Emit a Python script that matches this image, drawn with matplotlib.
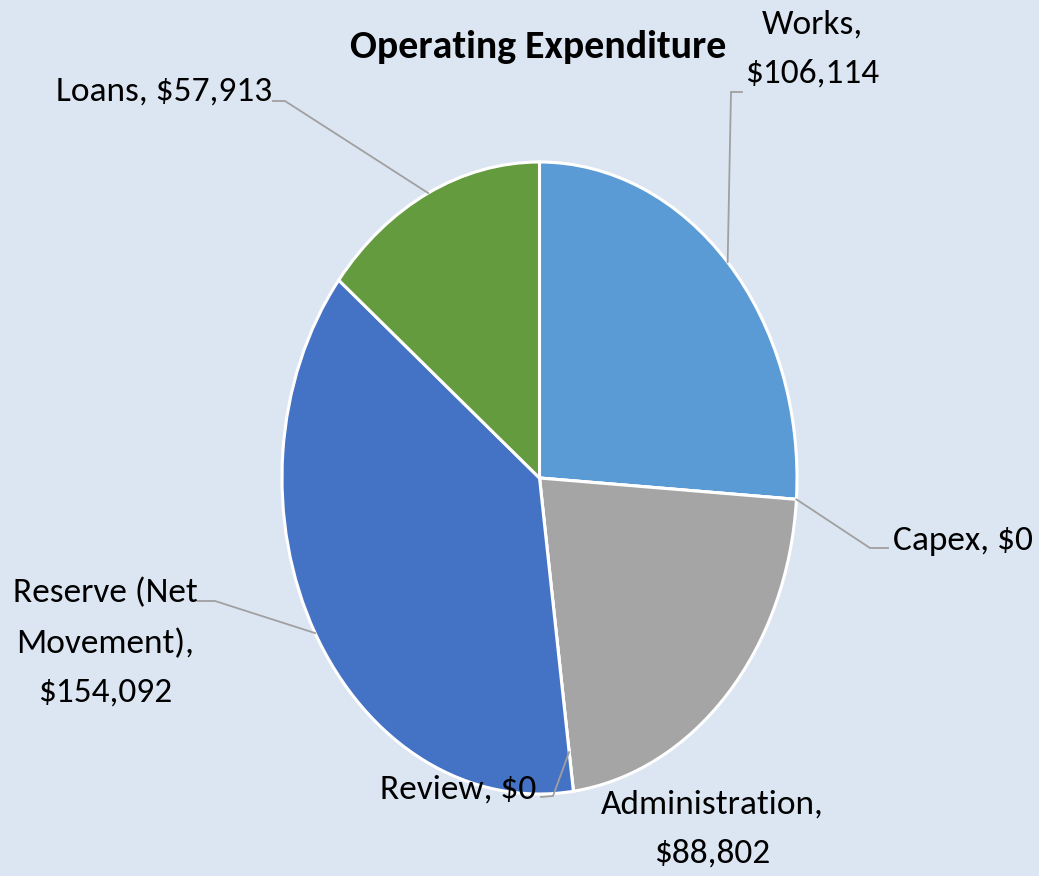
import numpy as np
import matplotlib
matplotlib.use("Agg")
import matplotlib.pyplot as plt
from matplotlib import font_manager

names = {f.name for f in font_manager.fontManager.ttflist}
FONT = "DejaVu Sans"
for cand in ["Carlito", "Liberation Sans Narrow", "Archivo Narrow"]:
    if cand in names:
        FONT = cand
        break
plt.rcParams['font.family'] = [FONT, 'DejaVu Sans']

title = "Operating Expenditure"
categories = ["Works", "Capex", "Administration", "Review", "Reserve (Net Movement)", "Loans"]
values = [106114, 0, 88802, 0, 154092, 57913]
label_texts = ["Works,\n$106,114", "Capex, $0", "Administration,\n$88,802", "Review, $0",
               "Reserve (Net\nMovement),\n$154,092", "Loans, $57,913"]
colors = ["#5b9bd5", "#ed7d31", "#a5a5a5", "#ffc000", "#4472c4", "#639b3e"]
bg = "#dce6f2"

W, H = 1039, 876
fig = plt.figure(figsize=(W / 100, H / 100), dpi=100)
fig.patch.set_facecolor(bg)

# pie bounding box in pixels
L, R, T, B = 282, 797, 162, 794
ax = fig.add_axes([L / W, 1 - B / H, (R - L) / W, (B - T) / H])
ax.set_facecolor(bg)
wedges, _ = ax.pie(values, colors=colors, startangle=90, counterclock=False,
                   wedgeprops=dict(edgecolor="white", linewidth=2.2))
ax.set_aspect('auto')
ax.set_xlim(-1, 1)
ax.set_ylim(-1, 1)
ax.axis('off')

cx, cy = (L + R) / 2, (T + B) / 2
rx, ry = (R - L) / 2, (B - T) / 2


def d(px, py):
    return ((px - cx) / rx, (cy - py) / ry)


total = sum(values)
angles = []
a = 90.0
for v in values:
    span = 360.0 * v / total
    angles.append(a - span / 2)
    a -= span

# label layout: (text pos px, ha, elbow px, end px, anchor radius)
layout = [
    ((812, 49), 'center', (731, 92), (742, 92), 1.0),
    ((893, 541), 'left', (870, 548), (888, 548), 1.0),
    ((712, 829), 'center', None, None, None),
    ((536, 790), 'right', (553, 796), (541, 797), 0.875),
    ((105, 643), 'center', (215, 601), (198, 601), 1.0),
    ((272, 92), 'right', (285, 101), (273, 101), 1.0),
]

lc = "#a0a0a0"
for ang, txt, (tp, ha, elbow, end, r) in zip(angles, label_texts, layout):
    if elbow is not None:
        ax0 = r * np.cos(np.radians(ang))
        ay0 = r * np.sin(np.radians(ang))
        e = d(*elbow)
        f = d(*end)
        ax.plot([ax0, e[0], f[0]], [ay0, e[1], f[1]], color=lc, lw=1.3,
                clip_on=False, solid_joinstyle='miter')
    p = d(*tp)
    ax.text(p[0], p[1], txt, ha=ha, va='center', multialignment='center',
            fontsize=25.5, linespacing=1.8, color='black', clip_on=False)

fig.text(538 / W, 1 - 47 / H, title, ha='center', va='center',
         fontsize=28.7, fontweight='bold', color='black')

fig.savefig("out.png", dpi=100, facecolor=bg)
